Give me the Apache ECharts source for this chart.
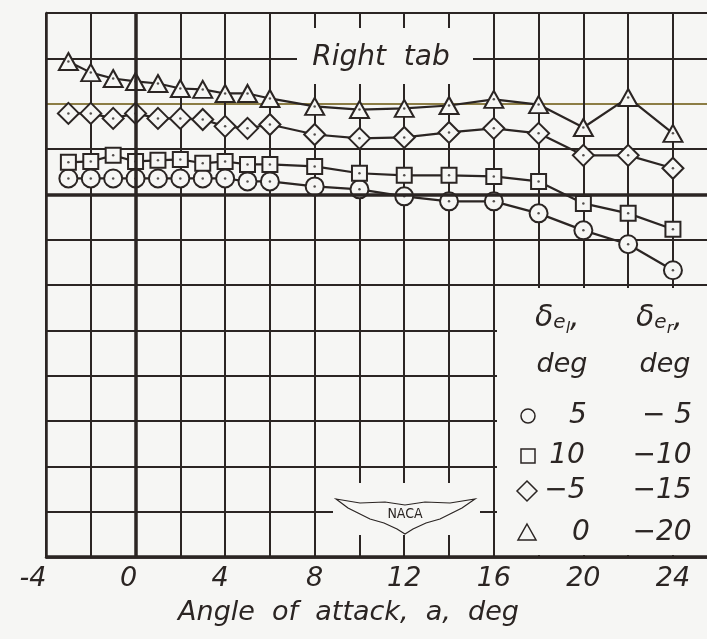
<!DOCTYPE html>
<html>
<head>
<meta charset="utf-8">
<style>
  html, body { margin: 0; padding: 0; background: #f6f6f4; }
  #chart { width: 707px; height: 639px; }
</style>
<script src="https://cdn.jsdelivr.net/npm/echarts@6/dist/echarts.min.js"></script>
</head>
<body>
<div id="chart"></div>
<script>
// angle of attack, deg
const alpha = [-3, -2, -1, 0, 1, 2, 3, 4, 5, 6, 8, 10, 12, 14, 16, 18, 20, 22, 24]

// one grid division = 0.02
const circleVals = [0.007, 0.007, 0.007, 0.007, 0.007, 0.007, 0.007, 0.007, 0.0057, 0.0057, 0.0035, 0.0022, -0.0009, -0.0031, -0.0031, -0.0084, -0.0159, -0.022, -0.0335]
const squareVals = [0.0141, 0.0145, 0.0172, 0.0145, 0.015, 0.0154, 0.0137, 0.0145, 0.0132, 0.0132, 0.0123, 0.0093, 0.0084, 0.0084, 0.0079, 0.0057, -0.004, -0.0084, -0.0154]
const diamondVals = [0.0357, 0.0357, 0.0335, 0.0357, 0.0335, 0.0335, 0.033, 0.03, 0.0291, 0.0308, 0.0264, 0.0247, 0.0251, 0.0273, 0.0291, 0.0269, 0.0172, 0.0172, 0.0115]
const triangleVals = [0.0586, 0.0537, 0.0511, 0.0498, 0.0489, 0.0467, 0.0463, 0.0445, 0.0445, 0.0423, 0.0388, 0.0374, 0.0379, 0.0392, 0.0419, 0.0396, 0.0295, 0.0427, 0.0269]

// legend table: left elevator / right elevator deflection
const deLeft = ['5', '10', '\u22125', '0']
const deRight = ['\u2212 5', '\u221210', '\u221215', '\u221220']

const ink = '#2b2523'
const paper = '#f6f6f4'
const font = 'DejaVu Sans'

const chart = echarts.init(document.getElementById('chart'))

const pairs = vals => alpha.map((a, i) => [a, vals[i]])

const curve = (name, vals, symbol, size) => ({
  name,
  type: 'line',
  data: pairs(vals),
  symbol,
  symbolSize: size,
  showAllSymbol: true,
  z: 3,
  lineStyle: { color: ink, width: 2.2 },
  itemStyle: { color: paper, borderColor: ink, borderWidth: 2 }
})

const dots = vals => ({
  type: 'scatter',
  data: pairs(vals),
  symbol: 'circle',
  symbolSize: 2.5,
  z: 4,
  itemStyle: { color: ink },
  silent: true
})

// grid line colours, the 0.04 line is tinted in the scan
const splitColors = Array.from({ length: 13 }, (_, i) => i === 10 ? '#8c7d45' : ink)

const legendRows = [
  { y: 416, sym: { type: 'circle', shape: { cx: 528, cy: 416, r: 7 } }, lx: 578, rx: 667 },
  { y: 456, sym: { type: 'rect', shape: { x: 521, y: 449, width: 14, height: 14 } }, lx: 567, rx: 662 },
  { y: 491, sym: { type: 'polygon', shape: { points: [[527, 481], [537, 491], [527, 501], [517, 491]] } }, lx: 565, rx: 662 },
  { y: 533, sym: { type: 'polygon', shape: { points: [[527, 524], [536, 540], [518, 540]] } }, lx: 581, rx: 662 }
]

const txt = (x, y, text, size, extra) => ({
  type: 'text', x, y, z: 5,
  style: Object.assign({
    text, fill: ink, font: 'italic ' + size + 'px "' + font + '"',
    align: 'center', verticalAlign: 'middle'
  }, extra || {})
})

const deltaRich = {
  d: { font: 'italic 30px "' + font + '"', fill: ink },
  s: { font: 'italic 20px "' + font + '"', fill: ink, padding: [10, 0, 0, 0] },
  t: { font: 'italic 16px "' + font + '"', fill: ink, padding: [22, 0, 0, 0] }
}

const graphic = [
  // blank areas where the original drawing has no grid
  { type: 'rect', z: 1, shape: { x: 497, y: 288, width: 220, height: 267 }, style: { fill: paper } },
  { type: 'rect', z: 1, shape: { x: 297, y: 28, width: 176, height: 56 }, style: { fill: paper } },
  { type: 'rect', z: 1, shape: { x: 333, y: 483, width: 147, height: 52 }, style: { fill: paper } },
  txt(381, 58, 'Right  tab', 28),
  // legend header
  { type: 'text', x: 535, y: 318, z: 5, style: { text: '{d|\u03b4}{s|e}{t|l}{d|,}', rich: deltaRich, verticalAlign: 'middle' } },
  { type: 'text', x: 636, y: 318, z: 5, style: { text: '{d|\u03b4}{s|e}{t|r}{d|,}', rich: deltaRich, verticalAlign: 'middle' } },
  txt(562, 365, 'deg', 27),
  txt(665, 365, 'deg', 27),
  // NACA wings
  {
    type: 'polygon', z: 5,
    shape: {
      points: [[336, 499], [360, 503], [385, 502], [405, 505], [425, 502], [450, 503], [475, 499],
        [462, 508], [452, 513], [440, 519], [426, 523], [413, 529], [405, 534], [397, 529],
        [384, 523], [370, 519], [358, 513], [348, 508]]
    },
    style: { fill: 'none', stroke: ink, lineWidth: 1.2 }
  },
  {
    type: 'text', x: 405, y: 514, z: 6,
    style: { text: 'NACA', fill: ink, font: '14px "DejaVu Sans Condensed"', align: 'center', verticalAlign: 'middle' }
  }
]

legendRows.forEach((r, i) => {
  graphic.push(Object.assign({ z: 5, style: { fill: 'none', stroke: ink, lineWidth: 1.5 } }, r.sym))
  graphic.push(txt(r.lx, r.y, deLeft[i], 28))
  graphic.push(txt(r.rx, r.y, deRight[i], 28))
})

// hand lettered tick labels sit a little left of their lines
const labelShift = { '-4': 26, '0': 14, '4': 10 }

const labelRich = {}
Object.keys(labelShift).forEach(key => {
  const k = labelShift[key]
  labelRich['s' + k] = { fontFamily: font, fontStyle: 'italic', fontSize: 27, color: ink, padding: [0, k, 0, 0] }
})

const option = {
  backgroundColor: paper,
  animation: false,
  grid: { left: 46, right: -4, top: 13, bottom: 82, outerBoundsMode: 'none', containLabel: false },
  xAxis: {
    type: 'value',
    min: -4,
    max: 25.7,
    interval: 2,
    name: 'Angle  of  attack,  a,  deg',
    nameLocation: 'middle',
    nameGap: 42,
    nameTextStyle: { color: ink, fontFamily: font, fontStyle: 'italic', fontSize: 27, padding: [0, 60, 0, 0] },
    axisLine: { onZero: false, lineStyle: { color: ink, width: 2.5 } },
    axisTick: { show: false },
    splitLine: { showMaxLine: false, lineStyle: { color: ink, width: 2 } },
    axisLabel: {
      color: ink, fontFamily: font, fontStyle: 'italic', fontSize: 27, margin: 8,
      formatter: v => {
        if (!(Number.isInteger(v) && v % 4 === 0)) return ''
        const s = String(v)
        const k = labelShift[s]
        return k ? '{s' + k + '|' + s + '}' : s
      },
      rich: labelRich
    }
  },
  yAxis: {
    type: 'value',
    min: -0.16,
    max: 0.08,
    interval: 0.02,
    axisLine: { onZero: false, lineStyle: { color: ink, width: 2.5 } },
    axisTick: { show: false },
    axisLabel: { show: false },
    splitLine: { lineStyle: { color: splitColors, width: 2 } }
  },
  graphic,
  series: [
    {
      type: 'line', data: [], z: 2, silent: true,
      markLine: {
        symbol: 'none', silent: true, label: { show: false },
        lineStyle: { color: ink, width: 3.5, type: 'solid' },
        data: [{ xAxis: 0 }, { yAxis: 0 }, { yAxis: -0.16 }]
      }
    },
    curve('\u03b4e,l 5, \u03b4e,r \u22125', circleVals, 'circle', 18),
    curve('\u03b4e,l 10, \u03b4e,r \u221210', squareVals, 'rect', 15),
    curve('\u03b4e,l \u22125, \u03b4e,r \u221215', diamondVals, 'diamond', 21),
    curve('\u03b4e,l 0, \u03b4e,r \u221220', triangleVals, 'triangle', [19, 17]),
    dots(circleVals),
    dots(squareVals),
    dots(diamondVals),
    dots(triangleVals)
  ]
}

chart.setOption(option)
window.addEventListener('resize', () => chart.resize())
</script>
</body>
</html>
